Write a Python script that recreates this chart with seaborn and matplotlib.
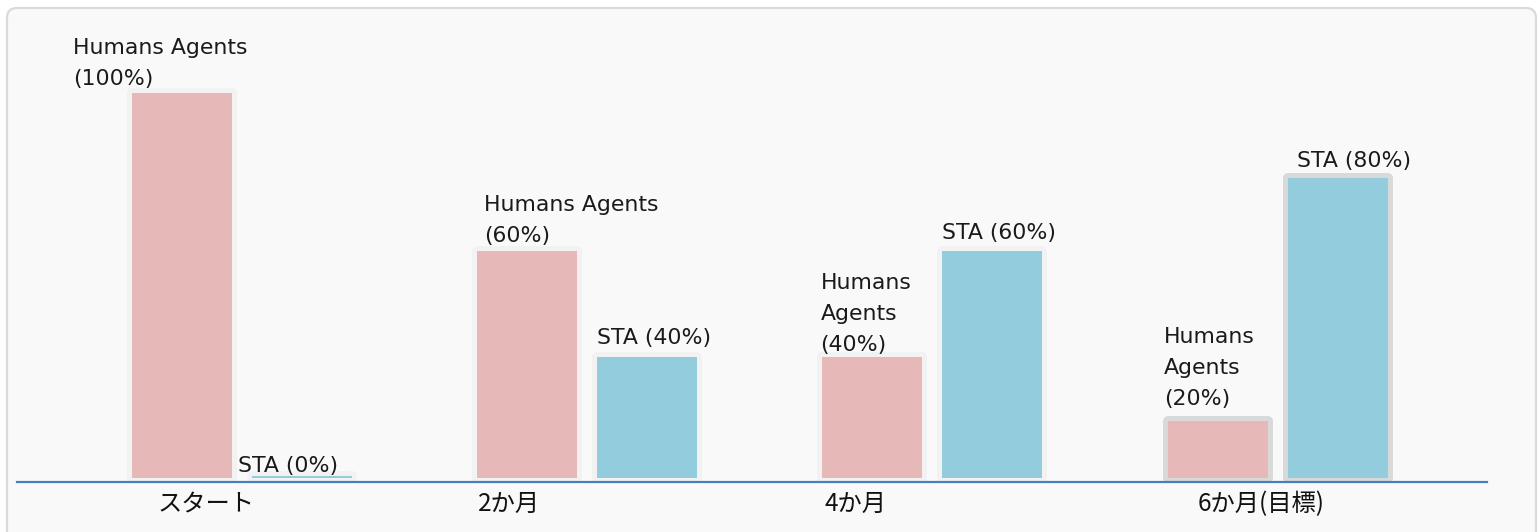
import matplotlib
matplotlib.use("Agg")
import matplotlib.pyplot as plt
import numpy as np
import pandas as pd
import seaborn as sns
from matplotlib.patches import FancyBboxPatch

# ---------------- data ----------------
periods = ["スタート", "2か月", "4か月", "6か月(目標)"]
series = ["Humans Agents", "STA"]
# bar heights as drawn in the reference (relative to the 100% bar)
humans_height = [100, 58.9, 31.4, 14.8]
sta_height = [0.5, 31.4, 58.9, 78.0]
humans_labels = ["Humans Agents\n(100%)", "Humans Agents\n(60%)",
                 "Humans\nAgents\n(40%)", "Humans\nAgents\n(20%)"]
sta_labels = ["STA (0%)", "STA (40%)", "STA (60%)", "STA (80%)"]

# ---------------- style ----------------
sns.set_theme(style="white")
plt.rcParams["font.family"] = ["DejaVu Sans", "Noto Sans CJK JP"]

colors = {series[0]: "#e6b8b7", series[1]: "#93cddd"}
halo_colors = ["#f2f2f2", "#f2f2f2", "#f2f2f2", "#d9d9d9"]
hum_dx = [-59, 7, -2, -4]
hum_dy = [4, 5, 2, 12]
sta_dx = [-14, 0, 0, 9]
sta_dy = [0, 9, 8, 7]
tick_dx = [26, 1, 2, 30]

W, H = 1538, 532
fig = plt.figure(figsize=(W / 100, H / 100), dpi=100, facecolor="white")

# background panel
bg = fig.add_axes([0, 0, 1, 1], zorder=0)
bg.set_xlim(0, W)
bg.set_ylim(H, 0)
bg.axis("off")
bg.add_patch(FancyBboxPatch((7, 8), 1529, 560,
                            boxstyle="round,pad=0,rounding_size=10",
                            fc="#f9f9f9", ec="#dadada", lw=1.6))

ax = fig.add_axes([17 / W, 50 / H, 1470 / W, 472 / H], zorder=1)
ax.patch.set_alpha(0)

df = pd.DataFrame({
    "period": periods * 2,
    "series": [series[0]] * len(periods) + [series[1]] * len(periods),
    "value": humans_height + sta_height,
})

bar_kw = dict(data=df, x="period", y="value", hue="series", order=periods,
              hue_order=series, palette=colors, width=0.695, gap=0.1667,
              saturation=1, legend=False, errorbar=None, ax=ax)

# halo layer
sns.barplot(**bar_kw)
n_halo = len(ax.patches)
for p in ax.patches[:n_halo]:
    cx = p.get_x() + p.get_width() / 2
    gi = int(round(cx))
    hc = halo_colors[gi]
    p.set_facecolor(hc)
    p.set_edgecolor(hc)
    p.set_linewidth(7.2)
    p.set_joinstyle("round")
    p.set_zorder(1)

# fill layer
sns.barplot(**bar_kw)
hum_bars, sta_bars = {}, {}
for p in ax.patches[n_halo:]:
    p.set_edgecolor("none")
    p.set_linewidth(0)
    p.set_zorder(2)
    cx = p.get_x() + p.get_width() / 2
    gi = int(round(cx))
    if cx < gi:
        hum_bars[gi] = p
    else:
        sta_bars[gi] = p

txt_kw = dict(textcoords="offset pixels", ha="left", va="bottom",
              fontsize=15.8, color="#1a1a1a", linespacing=1.7,
              annotation_clip=False, zorder=3)
for gi in range(len(periods)):
    hp = hum_bars[gi]
    sp = sta_bars[gi]
    ax.annotate(humans_labels[gi], xy=(hp.get_x(), hp.get_height()),
                xytext=(hum_dx[gi], hum_dy[gi]), **txt_kw)
    ax.annotate(sta_labels[gi], xy=(sp.get_x(), sp.get_height()),
                xytext=(sta_dx[gi], sta_dy[gi]), **txt_kw)
    ax.annotate(periods[gi], xy=(hp.get_x(), 0), xytext=(tick_dx[gi], -26),
                textcoords="offset pixels", ha="left", va="center",
                fontsize=17.5, color="#111111",
                family=["Noto Sans CJK JP", "DejaVu Sans"],
                annotation_clip=False)

ax.set_xlim(-0.651, 3.606)
ax.set_ylim(-1.04, 121.5)
ax.set_xticks([])
ax.set_yticks([])
ax.set_xlabel("")
ax.set_ylabel("")
for s in ["top", "right", "left"]:
    ax.spines[s].set_visible(False)
ax.spines["bottom"].set_color("#4a7ebb")
ax.spines["bottom"].set_linewidth(1.6)
ax.spines["bottom"].set_zorder(4)

fig.savefig("out.png", dpi=100, facecolor="white")
